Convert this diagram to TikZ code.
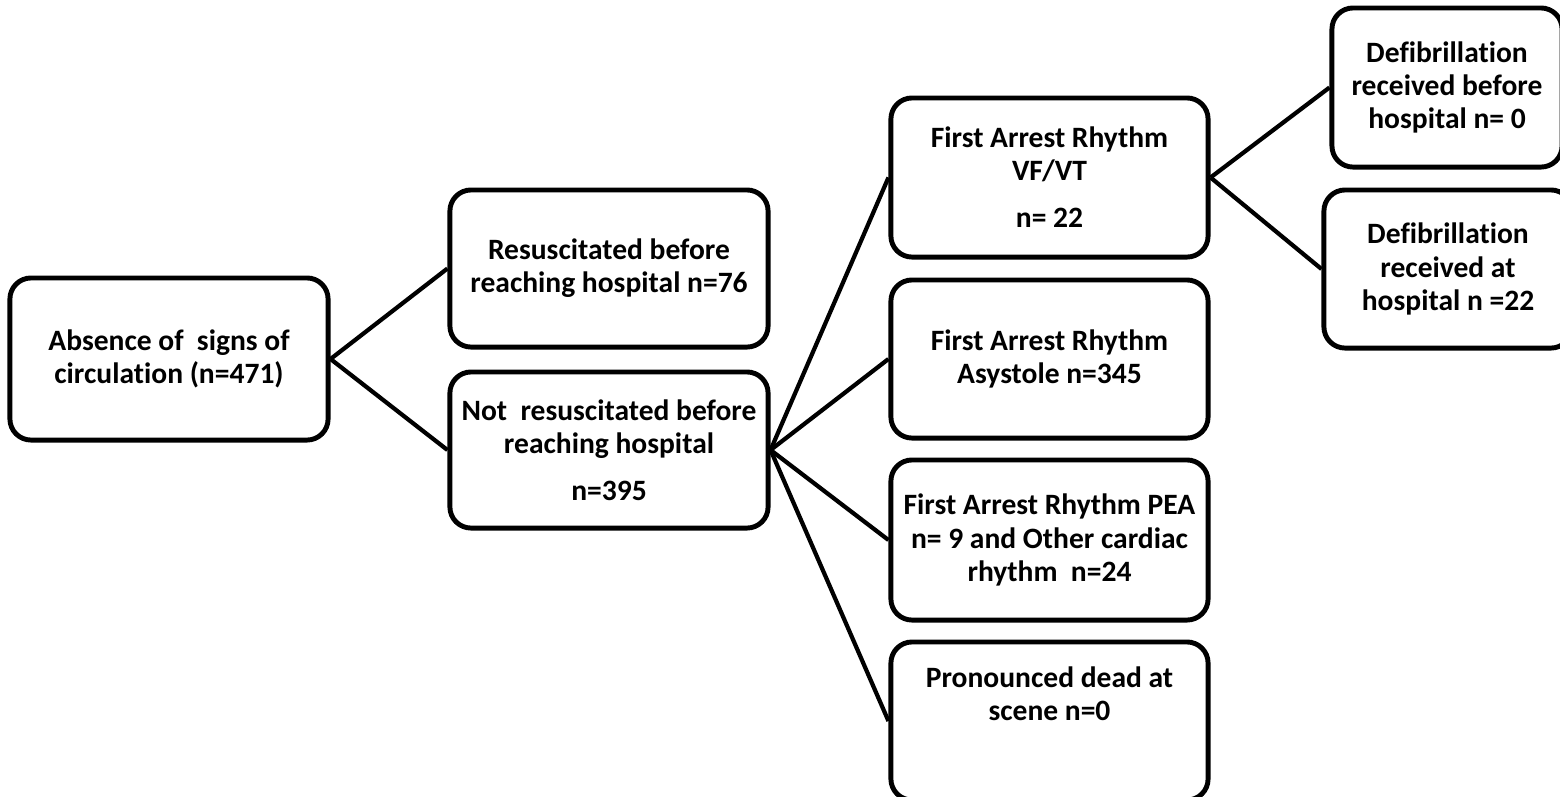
\documentclass[tikz,border=0pt]{standalone}
\usepackage{fontspec}
\setmainfont[Ligatures=NoCommon]{Carlito}

\tikzset{
  box/.style={draw, line width=1.4pt, rounded corners=6pt, align=center, inner sep=0pt,
    font=\bfseries\fontsize{8.4}{9.4}\selectfont},
  link/.style={line width=1.2pt}
}

\begin{document}
\begin{tikzpicture}[x=0.01cm,y=-0.01cm]
\useasboundingbox (0,0) rectangle (1560,796);
\node[box, minimum width=3.18cm, minimum height=1.62cm] (absent) at (169,359) {Absence of\ \ signs of\\circulation (n=471)};
\node[box, minimum width=3.18cm, minimum height=1.57cm] (resus) at (609,268.5) {Resuscitated before\\reaching hospital n=76};
\node[box, minimum width=3.18cm, minimum height=1.56cm] (notresus) at (609,450) {Not\ \ resuscitated before\\reaching hospital\\[4pt]n=395};
\node[box, minimum width=3.17cm, minimum height=1.59cm] (vfvt) at (1049.5,177.5) {First Arrest Rhythm\\VF/VT\\[4pt]n= 22};
\node[box, minimum width=3.17cm, minimum height=1.58cm] (asys) at (1049.5,359) {First Arrest Rhythm\\Asystole n=345};
\node[box, minimum width=3.17cm, minimum height=1.60cm] (pea) at (1049.5,540) {First Arrest Rhythm PEA\\n= 9 and Other cardiac\\rhythm\ \ n=24};
\node[box, minimum width=3.17cm, minimum height=1.58cm, text depth=0.55cm] (dead) at (1049.5,721) {Pronounced dead at\\scene n=0};
\node[box, minimum width=2.30cm, minimum height=1.59cm] (defpre) at (1447,87.5) {Defibrillation\\received before\\hospital n= 0};
\node[box, minimum width=2.48cm, minimum height=1.58cm] (defhosp) at (1448,269) {Defibrillation\\received at\\hospital n =22};

\draw[link] (absent.east) -- (resus.west);
\draw[link] (absent.east) -- (notresus.west);
\foreach \n in {vfvt,asys,pea,dead} \draw[link] (notresus.east) -- (\n.west);
\draw[link] (vfvt.east) -- (defpre.west);
\draw[link] (vfvt.east) -- (defhosp.west);
\end{tikzpicture}
\end{document}
